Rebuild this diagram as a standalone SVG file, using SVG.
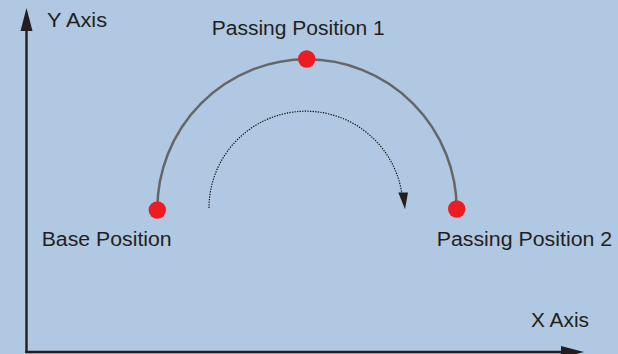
<svg xmlns="http://www.w3.org/2000/svg" width="618" height="354" viewBox="0 0 618 354">
<style>
.lbl{font-family:"Liberation Sans",Arial,sans-serif;font-size:20px;fill:#231f20}
.axis{stroke:#231f20;stroke-width:2.4;fill:none}
.head{fill:#231f20}
.dot{fill:#ed1c24}
</style>
<rect x="0" y="0" width="618" height="354" fill="#b0c8e2"/>
<g id="connectors">
<path class="axis" d="M26.5,353 V26"/>
<path class="head" d="M26.5,8 L32.5,31 L20.5,31 Z"/>
<path class="axis" d="M25.3,352 H566"/>
<path class="head" d="M584,352 L561,346 L561,358 Z"/>
<path d="M157.3,209.5 A149.5,150 0 0 1 456.7,209.5" fill="none" stroke="#666" stroke-width="2.5"/>
<path d="M209,208 A97,97 0 0 1 401.8,193" fill="none" stroke="#111" stroke-width="1.2" stroke-dasharray="1.3 1.3"/>
<path class="head" d="M398.3,192.5 L408,192.5 L405,209.3 Z" fill="#000"/>
</g>
<g id="y-axis"><text class="lbl" x="47" y="27.3" textLength="60" lengthAdjust="spacingAndGlyphs">Y Axis</text></g>
<g id="x-axis"><text class="lbl" x="531" y="327" textLength="58" lengthAdjust="spacingAndGlyphs">X Axis</text></g>
<g id="base-position">
<circle class="dot" cx="157.3" cy="210" r="8.7"/>
<text class="lbl" x="41.7" y="246" textLength="130" lengthAdjust="spacingAndGlyphs">Base Position</text>
</g>
<g id="passing-position-1">
<circle class="dot" cx="306.7" cy="59" r="8.7"/>
<text class="lbl" x="211.7" y="35" textLength="173" lengthAdjust="spacingAndGlyphs">Passing Position 1</text>
</g>
<g id="passing-position-2">
<circle class="dot" cx="456.7" cy="209" r="8.7"/>
<text class="lbl" x="436.7" y="246" textLength="175.5" lengthAdjust="spacingAndGlyphs">Passing Position 2</text>
</g>
</svg>
